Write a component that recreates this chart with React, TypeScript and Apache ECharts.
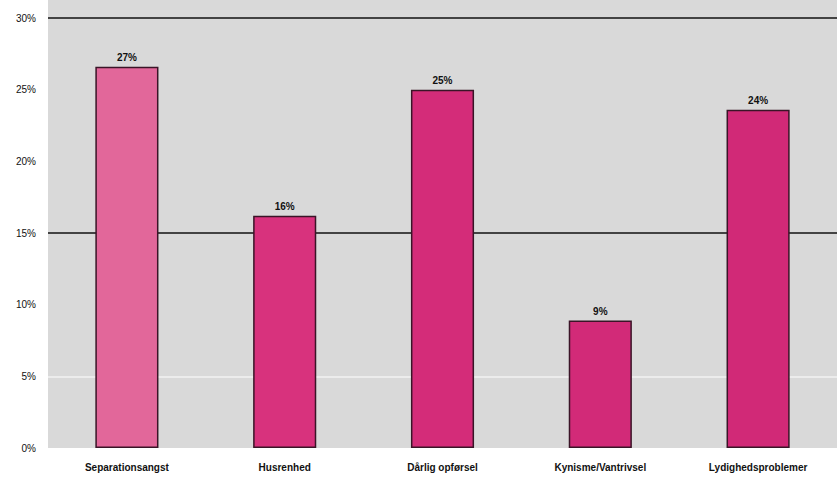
import React, { useEffect, useRef } from "react";
import * as echarts from "echarts";

const categories = [
  "Separationsangst",
  "Husrenhed",
  "Dårlig opførsel",
  "Kynisme/Vantrivsel",
  "Lydighedsproblemer",
];
const values = [26.6, 16.2, 25, 8.9, 23.6];
const yTicks = [0, 5, 10, 15, 20, 25, 30];
const barColors = ["#e2679a", "#d8327d", "#d42c79", "#d22a78", "#d12977"];

export default function App() {
  const ref = useRef<HTMLDivElement>(null);
  useEffect(() => {
    if (!ref.current) return;
    const chart = echarts.init(ref.current, undefined, { renderer: "svg" });
    chart.setOption({
      animation: false,
      backgroundColor: "#ffffff",
      graphic: [
        {
          type: "rect",
          left: 48,
          top: 0,
          shape: { width: 789, height: 19 },
          style: { fill: "#d9d9d9" },
          z: -10,
        },
      ],
      grid: {
        left: 48,
        right: 0,
        top: 18,
        bottom: 29,
        show: true,
        backgroundColor: "#d9d9d9",
        borderWidth: 0,
      },
      xAxis: {
        type: "category",
        data: categories,
        axisLine: { show: false },
        axisTick: { show: false },
        axisLabel: {
          color: "#111",
          fontFamily: "Liberation Sans",
          fontWeight: "bold",
          fontSize: 10,
          margin: 14,
        },
      },
      yAxis: {
        type: "value",
        min: 0,
        max: 30,
        interval: 5,
        axisLine: { show: false },
        axisTick: { show: false },
        splitLine: { show: false },
        axisLabel: {
          formatter: (v: number) => (yTicks.includes(v) ? v + "%" : ""),
          color: "#111",
          fontFamily: "Liberation Sans",
          fontSize: 10,
          margin: 12,
        },
      },
      series: [
        {
          type: "bar",
          data: values.map((v, i) => ({
            value: v,
            itemStyle: { color: barColors[i] },
          })),
          barWidth: "40%",
          itemStyle: { borderColor: "#3a1427", borderWidth: 1.5 },
          label: {
            show: true,
            position: "top",
            formatter: (p: any) => Math.round(p.value) + "%",
            color: "#111",
            fontFamily: "Liberation Sans",
            fontWeight: "bold",
            fontSize: 10,
            distance: 4,
          },
          markLine: {
            silent: true,
            symbol: "none",
            label: { show: false },
            data: [
              { yAxis: 30, lineStyle: { color: "#111", width: 1.5, type: "solid" } },
              { yAxis: 15, lineStyle: { color: "#111", width: 1.5, type: "solid" } },
              { yAxis: 5, lineStyle: { color: "#f2f2f2", width: 1.5, type: "solid" } },
            ],
            z: 1,
          },
          z: 3,
        },
      ],
    });
    return () => chart.dispose();
  }, []);
  return <div ref={ref} style={{ width: 837, height: 477, position: "absolute", left: 0, top: 0 }} />;
}
